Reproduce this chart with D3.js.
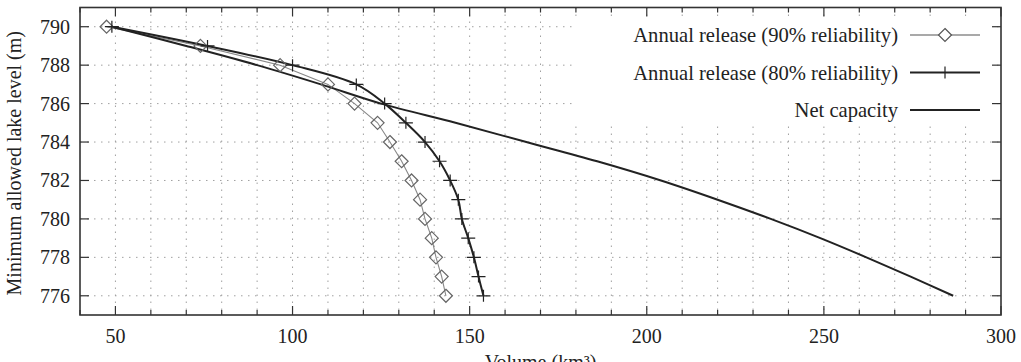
<!doctype html>
<html lang="en">
<head>
    <meta charset="UTF-8">
    <title>Lake level vs volume</title>
    <script src="https://cdnjs.cloudflare.com/ajax/libs/d3/7.8.5/d3.min.js"></script>
    <style>
        html, body {
            margin: 0;
            padding: 0;
            background: #fff;
            overflow: hidden;
        }
        text {
            font-family: "Liberation Serif", "DejaVu Serif", serif;
            font-size: 20px;
            fill: #222;
        }
        .legend text {
            font-size: 20.6px;
        }
    </style>
</head>
<body>
<svg id="chart" width="1021" height="362"></svg>
<script>
    // lake levels (m), same for all three series
    const levels = [790, 789, 788, 787, 786, 785, 784, 783, 782, 781, 780, 779, 778, 777, 776];
    // volumes
    const release90 = [47.5, 74, 96.5, 110, 117.5, 124, 127.5, 130.8, 133.6, 136, 137.4, 139.3, 140.5, 142.1, 143.3];
    const release80 = [49, 76, 100, 118, 126, 132, 137.4, 141.5, 144.5, 146.8, 147.8, 149.6, 151.2, 152.5, 153.9];
    const netCapacity = [49, 70, 90, 108, 125, 146, 166, 186, 204, 220, 235, 249, 262, 274.5, 286.5];

    const xMajor = [50, 100, 150, 200, 250, 300];
    const xMinor = d3.range(40, 301, 10);
    const yTicks = [776, 778, 780, 782, 784, 786, 788, 790];

    const legendLabels = ["Annual release (90% reliability)", "Annual release (80% reliability)", "Net capacity"];

    const svg = d3.select("#chart");
    const margin = {top: 7.5, right: 20, bottom: 47, left: 80};
    const width = 1021 - margin.left - margin.right;
    const height = 362 - margin.top - margin.bottom;

    const x = d3.scaleLinear().domain([40, 300]).range([0, width]);
    const y = d3.scaleLinear().domain([775, 791]).range([height, 0]);

    const g = svg.append("g")
        .attr("transform", "translate(" + margin.left + "," + margin.top + ")");

    // dotted grid
    g.append("g").selectAll("line")
        .data(xMinor.filter(d => d > 40 && d < 300))
        .enter().append("line")
        .attr("x1", d => x(d)).attr("x2", d => x(d))
        .attr("y1", 0).attr("y2", height)
        .attr("stroke", "#a0a0a0").attr("stroke-width", 1)
        .attr("stroke-dasharray", "1.5,5.5");
    g.append("g").selectAll("line")
        .data(yTicks)
        .enter().append("line")
        .attr("x1", 0).attr("x2", width)
        .attr("y1", d => y(d)).attr("y2", d => y(d))
        .attr("stroke", "#a0a0a0").attr("stroke-width", 1)
        .attr("stroke-dasharray", "1.5,5.5");

    const rows = levels.map((l, i) => ({l: l, r90: release90[i], r80: release80[i], net: netCapacity[i]}));

    // series
    const netLine = d3.line().x(d => x(d.net)).y(d => y(d.l)).curve(d3.curveCatmullRom.alpha(0.5));
    const line80 = d3.line().x(d => x(d.r80)).y(d => y(d.l)).curve(d3.curveCatmullRom.alpha(0.5));
    const line90 = d3.line().x(d => x(d.r90)).y(d => y(d.l));

    g.append("path").datum(rows).attr("d", line90)
        .attr("fill", "none").attr("stroke", "#888").attr("stroke-width", 1.1);
    g.append("path").datum(rows).attr("d", netLine)
        .attr("fill", "none").attr("stroke", "#222").attr("stroke-width", 2);
    g.append("path").datum(rows).attr("d", line80)
        .attr("fill", "none").attr("stroke", "#222").attr("stroke-width", 2);

    const diamond = (cx, cy, r) => "M" + cx + "," + (cy - r) + "L" + (cx + r) + "," + cy +
        "L" + cx + "," + (cy + r) + "L" + (cx - r) + "," + cy + "Z";
    const plus = (cx, cy) => "M" + (cx - 7) + "," + cy + "H" + (cx + 7) + "M" + cx + "," + (cy - 6) + "V" + (cy + 6);

    g.append("g").selectAll("path")
        .data(rows)
        .enter().append("path")
        .attr("d", d => diamond(x(d.r90), y(d.l), 6.5))
        .attr("fill", "none").attr("stroke", "#666").attr("stroke-width", 1.2);
    g.append("g").selectAll("path")
        .data(rows)
        .enter().append("path")
        .attr("d", d => plus(x(d.r80), y(d.l)))
        .attr("fill", "none").attr("stroke", "#222").attr("stroke-width", 1.2);

    // legend with opaque box
    const lg = g.append("g").attr("class", "legend");
    lg.append("rect")
        .attr("x", 492).attr("y", 12).attr("width", width - 498).attr("height", 106)
        .attr("fill", "#fff");
    legendLabels.forEach((label, i) => {
        const ly = 27.5 + i * 37.5;
        lg.append("text").attr("x", 818).attr("y", ly).attr("dy", "0.35em")
            .attr("text-anchor", "end").text(label);
        lg.append("line").attr("x1", 830).attr("x2", 900).attr("y1", ly).attr("y2", ly)
            .attr("stroke", i === 0 ? "#555" : "#222").attr("stroke-width", i === 0 ? 1.2 : 2);
        if (i === 0) {
            lg.append("path").attr("d", diamond(865, ly, 6.5))
                .attr("fill", "#fff").attr("stroke", "#555").attr("stroke-width", 1.2);
        } else if (i === 1) {
            lg.append("path").attr("d", plus(865, ly))
                .attr("stroke", "#222").attr("stroke-width", 1.2);
        }
    });

    // ticks, inward, mirrored
    const tickG = g.append("g").attr("stroke", "#333").attr("stroke-width", 1.2);
    xMinor.forEach(v => {
        const len = xMajor.includes(v) ? 9 : 5;
        tickG.append("line").attr("x1", x(v)).attr("x2", x(v)).attr("y1", height).attr("y2", height - len);
        tickG.append("line").attr("x1", x(v)).attr("x2", x(v)).attr("y1", 0).attr("y2", len);
    });
    yTicks.forEach(v => {
        tickG.append("line").attr("x1", 0).attr("x2", 9).attr("y1", y(v)).attr("y2", y(v));
        tickG.append("line").attr("x1", width).attr("x2", width - 9).attr("y1", y(v)).attr("y2", y(v));
    });

    // frame
    g.append("rect").attr("width", width).attr("height", height)
        .attr("fill", "none").attr("stroke", "#333").attr("stroke-width", 1.6);

    // tick labels
    g.append("g").selectAll("text")
        .data(xMajor)
        .enter().append("text")
        .attr("x", d => x(d)).attr("y", height + 28)
        .attr("text-anchor", "middle").text(d => d);
    g.append("g").selectAll("text")
        .data(yTicks)
        .enter().append("text")
        .attr("x", -10).attr("y", d => y(d)).attr("dy", "0.35em")
        .attr("text-anchor", "end").text(d => d);

    // axis titles (x title runs off the bottom edge, as in the source image)
    g.append("text")
        .attr("x", width / 2).attr("y", height + 54)
        .attr("text-anchor", "middle").text("Volume (km³)");
    g.append("text")
        .attr("transform", "translate(" + (-59) + "," + (height / 2 + 2) + ") rotate(-90)")
        .attr("text-anchor", "middle").text("Minimum allowed lake level (m)");
</script>
</body>
</html>
